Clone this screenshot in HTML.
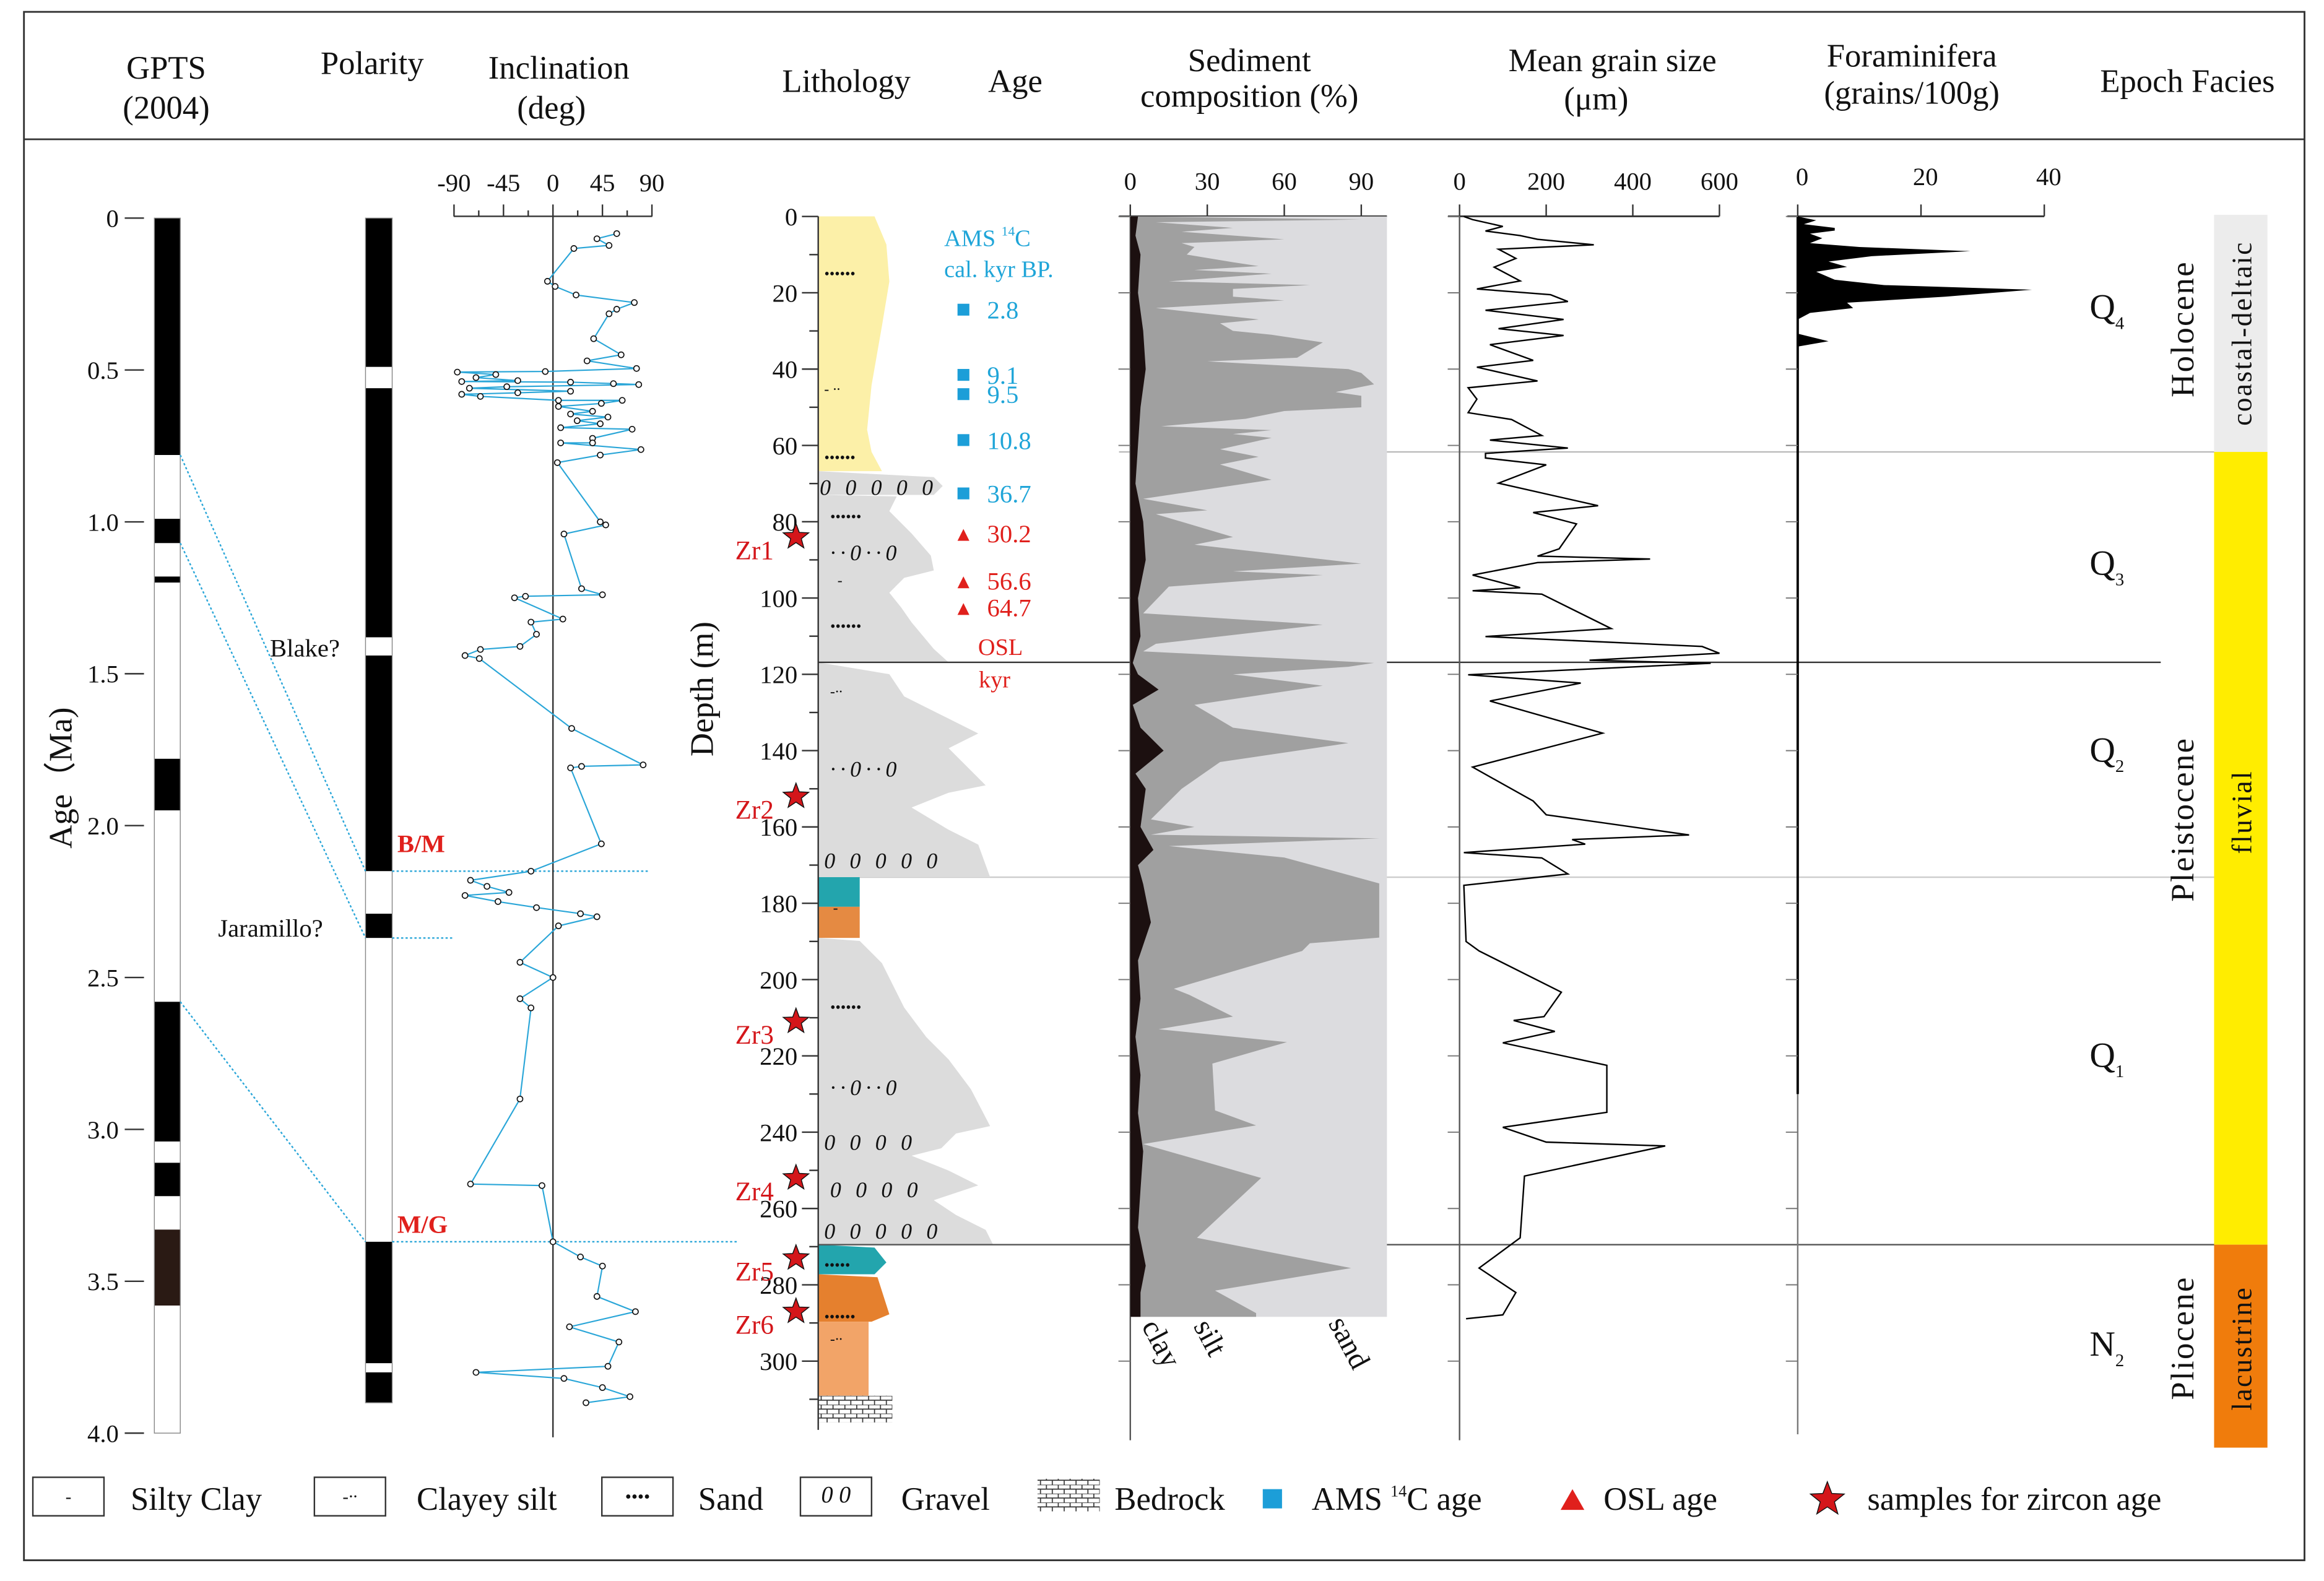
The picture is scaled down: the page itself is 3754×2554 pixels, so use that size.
<!DOCTYPE html>
<html><head><meta charset="utf-8">
<style>
html,body{margin:0;padding:0;background:#fff;}
svg{display:block;}
text{font-family:"Liberation Serif",serif;fill:#111;}
</style></head>
<body>
<svg id="fig" xmlns="http://www.w3.org/2000/svg" width="3754" height="2554" viewBox="0 0 1568 1067">
<defs>
<pattern id="brick" width="8" height="6" patternUnits="userSpaceOnUse">
<rect width="8" height="6" fill="#fff"/><path d="M0 0H8M0 3H8M2 0V3M6 3V6" stroke="#333" stroke-width="0.7"/></pattern>
</defs>
<rect x="16" y="8" width="1539" height="1045" fill="none" stroke="#333" stroke-width="1.2"/>
<line x1="16" y1="94" x2="1555" y2="94" stroke="#333" stroke-width="1.2"/>
<g font-size="22" text-anchor="middle">
<text x="112" y="53">GPTS</text>
<text x="112" y="80">(2004)</text>
<text x="251" y="50">Polarity</text>
<text x="377" y="53">Inclination</text>
<text x="372" y="80">(deg)</text>
<text x="571" y="62">Lithology</text>
<text x="685" y="62">Age</text>
<text x="843" y="48">Sediment</text>
<text x="843" y="72">composition (%)</text>
<text x="1088" y="48">Mean grain size</text>
<text x="1077" y="74">(μm)</text>
<text x="1290" y="45">Foraminifera</text>
<text x="1290" y="70">(grains/100g)</text>
<text x="1476" y="62">Epoch Facies</text>
</g>
<g id="static"></g>
<g id="dyn"></g>
</svg>
<script>
// ---------- data ----------
const sedDepths = [0,0.8,1.5,3,4,6,7,8,10,12,13,14,15,17,18,19,21,22,24,27,28,30,31,33,35,37,38,40,41,44,46,47,50,51,53,55,56,57,58,61,63,65,69,74,77,78,84,86,91,93,94,97,104,107,112,114,117,118,120,123,128,134,138,143,150,158,160,162,163,165,168,174.8,189,190.5,192.5,202.4,204,209.7,213,216.4,222,234.3,238.2,243.1,252,267.7,275.6,281.5,287.4,288.4];
const siltCum = [5,90,10,40,20,60,20,25,22,40,50,25,55,15,70,40,40,60,10,50,35,40,55,75,70,65,30,85,90,95,80,90,90,60,45,12,55,40,55,35,50,35,55,5,30,10,40,25,90,40,75,15,5,75,10,5,95,85,40,75,25,40,85,35,20,8,25,8,97,15,60,97,97,70,67,17,23,40,11,61,32,33,49,5,51,26,86,33,49,49];
const clayDepths = [0,5,10,20,30,40,50,60,70,80,90,100,110,117,120,124,128,134,140,146,150,160,166,170,175,185,195,205,215,225,235,245,255,265,275,282,288.4];
const clayVals = [3,2,4,3,5,6,4,3,2,5,6,3,4,1,3,11,1,4,13,2,6,4,9,3,5,8,3,4,2,4,3,5,4,3,6,4,4];
const grainDepths = [0,0.8,2.6,3.8,5,6,7.4,8.6,11,13.3,16.9,19,20.5,22.3,24.6,27,29.4,31.2,33.6,37.7,39.5,43.1,44.9,47.9,51.4,53.2,57.4,58.6,60.7,62.1,63.3,65.1,69.9,75.8,77.6,80.6,87.1,89,89.8,90.7,94,97.3,98.1,99,108,110.1,112.7,114.5,116.3,117.1,120.1,122.3,127,135.4,144.3,153.2,156.8,162.1,163.3,164.5,166.7,168.1,172.3,175.3,190,192.5,203.3,209.7,210.7,213.6,216.6,222.5,234.8,238.7,242.6,243.6,251.5,267.7,275.6,282,287.9,288.9];
const grainVals = [10,30,100,60,140,180,310,90,130,80,140,40,210,250,60,240,90,240,70,170,40,180,20,40,20,120,190,70,250,60,60,200,90,320,170,270,230,180,440,180,30,140,30,190,350,60,560,600,300,580,20,280,70,330,30,170,200,530,260,290,10,190,250,10,15,45,235,195,125,220,100,340,340,100,200,475,150,140,45,130,100,15];
const foramDepths = [0,1,2,3,3.7,4.5,5.7,7,8,9.1,10.4,11.8,13.2,14.5,16.6,18,19.2,21,22.6,24,25.3,27,30.7,32.7,34.1,36];
const foramVals = [0,3,1,6,6,2,4,2,10,28,12,5,8,3,6,14,38,24,8,9,2,0,0,5,0,0];
const inclAges = [0.051,0.068,0.09,0.1,0.208,0.225,0.253,0.278,0.3,0.315,0.397,0.45,0.47,0.495,0.505,0.507,0.515,0.525,0.535,0.538,0.54,0.545,0.548,0.555,0.56,0.57,0.575,0.58,0.587,0.6,0.6,0.61,0.62,0.636,0.645,0.655,0.667,0.677,0.69,0.695,0.725,0.74,0.74,0.762,0.78,0.805,1.0,1.01,1.04,1.22,1.24,1.245,1.25,1.32,1.33,1.37,1.41,1.42,1.44,1.45,1.68,1.8,1.805,1.81,2.06,2.15,2.18,2.2,2.22,2.23,2.25,2.27,2.29,2.3,2.33,2.45,2.5,2.57,2.6,2.9,3.18,3.185,3.37,3.42,3.45,3.55,3.6,3.65,3.7,3.78,3.8,3.82,3.85,3.88,3.9];
const inclVals = [58,40,51,19,-5,2,21,74,58,51,37,62,31,76,-7,-87,-52,-70,-32,-83,16,55,78,-42,-76,16,-32,-83,-66,5,63,44,5,36,16,50,22,43,7,72,36,36,7,80,43,4,43,48,10,26,45,-25,-35,9,-20,-15,-30,-66,-80,-67,17,82,26,16,44,-20,-75,-60,-40,-80,-50,-15,25,40,5,-30,0,-30,-20,-30,-75,-10,0,25,45,40,75,15,60,50,-70,10,45,70,30];
const depthTicks = [0,20,40,60,80,100,120,140,160,180,200,220,240,260,280,300];
const ageTicks = ["0","0.5","1.0","1.5","2.0","2.5","3.0","3.5","4.0"];
const inclTicks = [-90,-45,0,45,90];
const sedTicks = [0,30,60,90];
const grainTicks = [0,200,400,600];
const foramTicks = [0,20,40];

// ---------- scales ----------
const depthY = d => 146.1 + d*2.575;
const sedX = p => 762.6 + p*1.732;
const grainX = v => 984.8 + v*0.2923;
const foramX = v => 1213 + v*4.16;
const ageY = a => 147.2 + a*205;
const inclX = i => 373 + i*0.742;

const NS = "http://www.w3.org/2000/svg";
function mk(parent, tag, attrs, txt){
  const e = document.createElementNS(NS, tag);
  for (const k in attrs) e.setAttribute(k, attrs[k]);
  if (txt !== undefined) e.textContent = txt;
  parent.appendChild(e);
  return e;
}
const S = document.getElementById('static');
const D = document.getElementById('dyn');
let e;

// ---------- separators ----------
e = mk(S,'line',{x1:755,y1:305,x2:1494,y2:305,stroke:'#bbb','stroke-width':1});


e = mk(S,'line',{x1:552,y1:592,x2:1494,y2:592,stroke:'#ccc','stroke-width':1});



// ---------- GPTS column ----------
const gpts = [[0,0.78,'#000'],[0.78,0.99,'#fff'],[0.99,1.07,'#000'],[1.07,1.18,'#fff'],[1.18,1.2,'#000'],[1.2,1.78,'#fff'],[1.78,1.95,'#000'],[1.95,2.15,'#fff'],[2.15,2.58,'#fff'],[2.58,3.04,'#000'],[3.04,3.11,'#fff'],[3.11,3.22,'#000'],[3.22,3.33,'#fff'],[3.33,3.58,'#2a1a14'],[3.58,4.0,'#fff']];
gpts.forEach(g=>{
  e = mk(S,'rect',{x:104,y:ageY(g[0]),width:17.5,height:ageY(g[1])-ageY(g[0]),fill:g[2]});
  
  
});
e = mk(S,'rect',{x:104,y:ageY(0),width:17.5,height:ageY(4)-ageY(0),fill:'none',stroke:'#888','stroke-width':0.6});


// polarity column
const pol = [[0,0.49,'#000'],[0.49,0.56,'#fff'],[0.56,1.38,'#000'],[1.38,1.44,'#fff'],[1.44,2.15,'#000'],[2.15,2.29,'#fff'],[2.29,2.37,'#000'],[2.37,3.37,'#fff'],[3.37,3.77,'#000'],[3.77,3.8,'#fff'],[3.8,3.9,'#000']];
pol.forEach(g=>{
  e = mk(S,'rect',{x:246.5,y:ageY(g[0]),width:18,height:ageY(g[1])-ageY(g[0]),fill:g[2]});
  
  
});
e = mk(S,'rect',{x:246.5,y:ageY(0),width:18,height:ageY(3.9)-ageY(0),fill:'none',stroke:'#888','stroke-width':0.6});


// correlation dotted lines
[[121.5,ageY(0.78),246.5,ageY(2.15)],[121.5,ageY(1.07),246.5,ageY(2.37)],[121.5,ageY(2.58),246.5,ageY(3.37)],[264.5,ageY(2.15),437,ageY(2.15)],[264.5,ageY(2.37),305,ageY(2.37)],[264.5,ageY(3.37),497,ageY(3.37)]].forEach(l=>{
  e = mk(S,'line',{x1:l[0],y1:l[1],x2:l[2],y2:l[3],stroke:'#2aa6d8','stroke-width':1,'stroke-dasharray':'1.5 1.5'});
  
  
});
e = mk(S,'text',{x:268,y:575,'font-size':17,'font-weight':'bold',fill:'#e0201c'},'B/M');


e.style.fill='#e0201c';
e = mk(S,'text',{x:268,y:832,'font-size':17,'font-weight':'bold'},'M/G');


e.style.fill='#e0201c';
e = mk(S,'text',{x:182,y:443,'font-size':17},'Blake?');


e = mk(S,'text',{x:147,y:632,'font-size':17},'Jaramillo?');



// age axis
ageTicks.forEach((t,i)=>{
  const y = ageY(i*0.5);
  e = mk(S,'line',{x1:84,y1:y,x2:97,y2:y,stroke:'#333','stroke-width':1});
  
  
  e = mk(S,'text',{x:80,y:y+6,'font-size':17,'text-anchor':'end'},t);
  
  
});
e = mk(S,'text',{x:48,y:525,'font-size':22,'text-anchor':'middle',transform:'rotate(-90 48 525)'},'Age（Ma)');



// inclination axis
e = mk(S,'line',{x1:306,y1:146,x2:440,y2:146,stroke:'#333','stroke-width':1});


e = mk(S,'line',{x1:373,y1:146,x2:373,y2:970,stroke:'#333','stroke-width':1});


inclTicks.forEach(t=>{
  e = mk(S,'line',{x1:inclX(t),y1:138,x2:inclX(t),y2:146,stroke:'#333','stroke-width':1});
  
  
  e = mk(S,'text',{x:inclX(t),y:129,'font-size':17,'text-anchor':'middle'},String(t));
  
  
});
[-67.5,-22.5,22.5,67.5].forEach(t=>{
  e = mk(S,'line',{x1:inclX(t),y1:142,x2:inclX(t),y2:146,stroke:'#333','stroke-width':1});
  
  
});
let ip = inclAges.map((a,i)=>inclX(inclVals[i]).toFixed(1)+','+ageY(a).toFixed(1)).join(' ');
e = mk(D,'polyline',{points:ip,fill:'none',stroke:'#2aa6d8','stroke-width':0.9});


inclAges.forEach((a,i)=>{
  e = mk(D,'circle',{cx:inclX(inclVals[i]),cy:ageY(a),r:1.9,fill:'#fff',stroke:'#111','stroke-width':0.7});
  
  
});

// ---------- lithology ----------
const yl = '#fcf0a8', gr = '#dcdcdc';
[
 ['lith-yellow',"M552 146 L590 146 L598 165 L600 190 L595 220 L588 260 L585 290 L588 305 L595 318 L552 318Z",yl],
 ['lith-gravel-band',"M552 318 L630 322 L636 328 L630 334 L552 334Z",gr],
 ['lith-gray-q3',"M552 334 L605 335 L600 345 L615 360 L628 375 L630 385 L610 390 L600 400 L608 410 L615 420 L630 438 L640 447 L552 447Z",gr],
 ['lith-gray-q2',"M552 447 L600 455 L610 470 L640 485 L660 495 L640 505 L655 520 L665 530 L640 535 L615 545 L640 560 L660 570 L668 592 L552 592Z",gr],
 ['lith-teal-1',"M552 592 L580 592 L580 612 L552 612Z",'#23a5ad'],
 ['lith-orange-1',"M552 612 L580 612 L580 633 L552 633Z",'#e58a42'],
 ['lith-gray-q1',"M552 633 L580 635 L595 650 L610 680 L625 700 L640 715 L655 735 L668 760 L645 765 L635 775 L615 780 L640 790 L660 800 L630 810 L645 820 L665 830 L670 840 L552 840Z",gr],
 ['lith-teal-2',"M552 840 L590 842 L598 852 L590 860 L552 860Z",'#23a5ad'],
 ['lith-orange-2',"M552 860 L592 862 L600 887 L588 892 L552 892Z",'#e5802e'],
 ['lith-orange-3',"M552 892 L586 892 L586 942 L552 942Z",'#f2a468'],
 ['lith-bedrock',"M552 942 L602 942 L602 960 L552 960Z",'url(#brick)']
].forEach(p=>{
  e = mk(S,'path',{d:p[1],fill:p[2]});
  
  
});
e = mk(S,'line',{x1:552,y1:447,x2:1458,y2:447,stroke:'#333','stroke-width':1});


e = mk(S,'line',{x1:552,y1:840,x2:1494,y2:840,stroke:'#555','stroke-width':1});


[[556,188,'••••••'],[556,266,'- ··'],[556,312,'••••••'],[553,334,'0 0 0 0 0'],[560,352,'••••••'],[560,378,'··0··0'],[565,395,'-'],[560,426,'••••••'],[560,470,'-··'],[560,524,'··0··0'],[556,586,'0 0 0 0 0'],[562,616,'-'],[560,683,'••••••'],[560,739,'··0··0'],[556,776,'0 0 0 0'],[560,808,'0 0 0 0'],[556,836,'0 0 0 0 0'],[556,857,'•••••'],[556,892,'••••••'],[560,907,'-··']].forEach(t=>{
  e = mk(S,'text',{x:t[0],y:t[1],'font-size':t[2].indexOf('0')>=0?15:10,'font-style':'italic','letter-spacing':t[2].indexOf('0')>=0?'3':'0'},t[2]);
  
  
});
// depth axis
e = mk(S,'line',{x1:552,y1:146,x2:552,y2:965,stroke:'#333','stroke-width':1});


depthTicks.forEach(t=>{
  const y = depthY(t);
  e = mk(S,'line',{x1:541,y1:y,x2:552,y2:y,stroke:'#333','stroke-width':1});
  
  
  e = mk(S,'text',{x:538,y:y+6,'font-size':17,'text-anchor':'end'},String(t));
  
  
  e = mk(S,'line',{x1:546,y1:depthY(t+10),x2:552,y2:depthY(t+10),stroke:'#333','stroke-width':1});
  
  
});
e = mk(S,'text',{x:481,y:465,'font-size':22,'text-anchor':'middle',transform:'rotate(-90 481 465)'},'Depth (m)');


// zircon stars
function star(cx,cy,r){let s='';for(let i=0;i<10;i++){const a=-Math.PI/2+i*Math.PI/5;const rr=i%2?r*0.42:r;s+=(cx+rr*Math.cos(a)).toFixed(1)+','+(cy+rr*Math.sin(a)).toFixed(1)+' ';}return s;}
[['Zr1',84],['Zr2',152],['Zr3',211],['Zr4',252],['Zr5',273],['Zr6',287]].forEach(z=>{
  const y = depthY(z[1]);
  e = mk(S,'polygon',{points:star(537,y,9),fill:'#d4161a',stroke:'#111','stroke-width':0.6});
  
  
  e = mk(S,'text',{x:522,y:y+15,'font-size':18,'text-anchor':'end'},z[0]);
  
  
  e.style.fill='#d4161a';
});
// age annotations
e = mk(S,'text',{x:637,y:166,'font-size':16},'AMS ');


e.style.fill='#1fa5d8';
e.innerHTML='AMS <tspan font-size="9" dy="-7">14</tspan><tspan dy="7">C</tspan>';
e = mk(S,'text',{x:637,y:187,'font-size':16},'cal. kyr BP.');


e.style.fill='#1fa5d8';
[[2.8,210],[9.1,254],[9.5,267],[10.8,298],[36.7,334]].forEach(a=>{
  e = mk(S,'rect',{x:646,y:a[1]-5,width:8,height:8,fill:'#1c9ed8'});
  
  
  e = mk(S,'text',{x:666,y:a[1]+5,'font-size':17},String(a[0]));
  
  
  e.style.fill='#1fa5d8';
});
[[30.2,361],[56.6,393],[64.7,411]].forEach(a=>{
  e = mk(S,'polygon',{points:`646,${a[1]+4} 654,${a[1]+4} 650,${a[1]-4}`,fill:'#e0201c'});
  
  
  e = mk(S,'text',{x:666,y:a[1]+5,'font-size':17},String(a[0]));
  
  
  e.style.fill='#e0201c';
});
e = mk(S,'text',{x:675,y:442,'font-size':16,'text-anchor':'middle'},'OSL');


e.style.fill='#e0201c';
e = mk(S,'text',{x:671,y:464,'font-size':16,'text-anchor':'middle'},'kyr');


e.style.fill='#e0201c';

// ---------- sediment composition ----------
const sedBottom = sedDepths[sedDepths.length-1];
e = mk(D,'rect',{x:sedX(0),y:depthY(0),width:sedX(100)-sedX(0),height:depthY(sedBottom)-depthY(0),fill:'#dcdcdf'});


let sp = sedDepths.map((d,i)=>sedX(siltCum[i]).toFixed(1)+','+depthY(d).toFixed(1)).join(' ');
sp = sedX(0)+','+depthY(0)+' '+sp+' '+sedX(0)+','+depthY(sedBottom);
e = mk(D,'polygon',{points:sp,fill:'#a0a0a0'});


let cp = clayDepths.map((d,i)=>sedX(clayVals[i]).toFixed(1)+','+depthY(d).toFixed(1)).join(' ');
cp = sedX(0)+','+depthY(0)+' '+cp+' '+sedX(0)+','+depthY(sedBottom);
e = mk(D,'polygon',{points:cp,fill:'#1c1010'});


e = mk(S,'line',{x1:755,y1:146,x2:sedX(100),y2:146,stroke:'#333','stroke-width':1.2});


e = mk(S,'line',{x1:sedX(0),y1:146,x2:sedX(0),y2:972,stroke:'#555','stroke-width':1});


sedTicks.forEach(t=>{
  e = mk(S,'line',{x1:sedX(t),y1:138,x2:sedX(t),y2:146,stroke:'#333','stroke-width':1});
  
  
  e = mk(S,'text',{x:sedX(t),y:128,'font-size':17,'text-anchor':'middle'},String(t));
  
  
});
[['clay',770,895],['silt',805,895],['sand',896,893]].forEach(t=>{
  e = mk(S,'text',{x:t[1],y:t[2],'font-size':20,transform:`rotate(62 ${t[1]} ${t[2]})`},t[0]);
  
  
});

// ---------- grain size ----------
e = mk(S,'line',{x1:977,y1:146,x2:grainX(600),y2:146,stroke:'#333','stroke-width':1.2});


e = mk(S,'line',{x1:grainX(0),y1:146,x2:grainX(0),y2:972,stroke:'#555','stroke-width':1});


grainTicks.forEach(t=>{
  e = mk(S,'line',{x1:grainX(t),y1:138,x2:grainX(t),y2:146,stroke:'#333','stroke-width':1});
  
  
  e = mk(S,'text',{x:grainX(t),y:128,'font-size':17,'text-anchor':'middle'},String(t));
  
  
});
let gp = grainDepths.map((d,i)=>grainX(grainVals[i]).toFixed(1)+','+depthY(d).toFixed(1)).join(' ');
e = mk(D,'polyline',{points:gp,fill:'none',stroke:'#000','stroke-width':1});



// ---------- foraminifera ----------
e = mk(S,'line',{x1:1206,y1:146,x2:foramX(40),y2:146,stroke:'#333','stroke-width':1.2});


e = mk(S,'line',{x1:foramX(0),y1:146,x2:foramX(0),y2:968,stroke:'#777','stroke-width':1});


e = mk(S,'line',{x1:foramX(0),y1:146,x2:foramX(0),y2:depthY(230),stroke:'#000','stroke-width':1.6});


foramTicks.forEach(t=>{
  e = mk(S,'line',{x1:foramX(t),y1:138,x2:foramX(t),y2:146,stroke:'#333','stroke-width':1});
  
  
  e = mk(S,'text',{x:foramX(t)+3,y:125,'font-size':17,'text-anchor':'middle'},String(t));
  
  
});
let fp = foramDepths.map((d,i)=>foramX(foramVals[i]).toFixed(1)+','+depthY(d).toFixed(1)).join(' ');
fp = foramX(0)+','+depthY(0)+' '+fp+' '+foramX(0)+','+depthY(foramDepths[foramDepths.length-1]);
e = mk(D,'polygon',{points:fp,fill:'#000'});



// left-side depth ticks on panels
depthTicks.forEach(t=>{
  [sedX(0),grainX(0),foramX(0)].forEach(x=>{
    e = mk(S,'line',{x1:x-8,y1:depthY(t),x2:x,y2:depthY(t),stroke:'#777','stroke-width':0.8});
    
    
  });
});

// ---------- epoch / facies ----------
[['facies-coastal-deltaic',145,305,'#ececec'],['facies-fluvial',305,840,'#ffed00'],['facies-lacustrine',840,977,'#f07c0c']].forEach(f=>{
  e = mk(S,'rect',{x:1494,y:f[1],width:36,height:f[2]-f[1],fill:f[3]});
  
  
});
[['coastal-deltaic',225],['fluvial',548],['lacustrine',910]].forEach(f=>{
  e = mk(S,'text',{x:1519,y:f[1],'font-size':19,'text-anchor':'middle','letter-spacing':'1',transform:`rotate(-90 1519 ${f[1]})`},f[0]);
  
  
});
[['Holocene',222],['Pleistocene',553],['Pliocene',903]].forEach(f=>{
  e = mk(S,'text',{x:1480,y:f[1],'font-size':22,'text-anchor':'middle','letter-spacing':'1',transform:`rotate(-90 1480 ${f[1]})`},f[0]);
  
  
});
[['Q','4',215],['Q','3',388],['Q','2',514],['Q','1',720],['N','2',915]].forEach(q=>{
  e = mk(S,'text',{x:1410,y:q[2],'font-size':24},'');
  
  
  e.innerHTML = q[0]+'<tspan font-size="12" dy="7">'+q[1]+'</tspan>';
});

// ---------- legend ----------
const L = mk(S,'g',{});


[[22,'-','Silty Clay',88],[212,'-··','Clayey silt',281],[406,'••••','Sand',471],[540,'0 0','Gravel',608]].forEach(l=>{
  e = mk(L,'rect',{x:l[0],y:997,width:48,height:26,fill:'#fff',stroke:'#333','stroke-width':1});
  
  
  e = mk(L,'text',{x:l[0]+24,y:1014,'font-size':l[1]==='0 0'?16:12,'text-anchor':'middle','font-style':'italic'},l[1]);
  
  
  e = mk(L,'text',{x:l[3],y:1019,'font-size':22},l[2]);
  
  
});
e = mk(L,'rect',{x:700,y:998,width:42,height:22,fill:'url(#brick)'});


e = mk(L,'text',{x:752,y:1019,'font-size':22},'Bedrock');


e = mk(L,'rect',{x:852,y:1005,width:13,height:13,fill:'#1c9ed8'});


e = mk(L,'text',{x:885,y:1019,'font-size':22},'');


e.innerHTML='AMS <tspan font-size="11" dy="-9">14</tspan><tspan dy="9">C age</tspan>';
e = mk(L,'polygon',{points:'1053,1019 1069,1019 1061,1005',fill:'#e0201c'});


e = mk(L,'text',{x:1082,y:1019,'font-size':22},'OSL age');


e = mk(L,'polygon',{points:star(1233,1012,12),fill:'#d4161a',stroke:'#111','stroke-width':0.6});


e = mk(L,'text',{x:1260,y:1019,'font-size':22},'samples for zircon age');


</script>
</body></html>
